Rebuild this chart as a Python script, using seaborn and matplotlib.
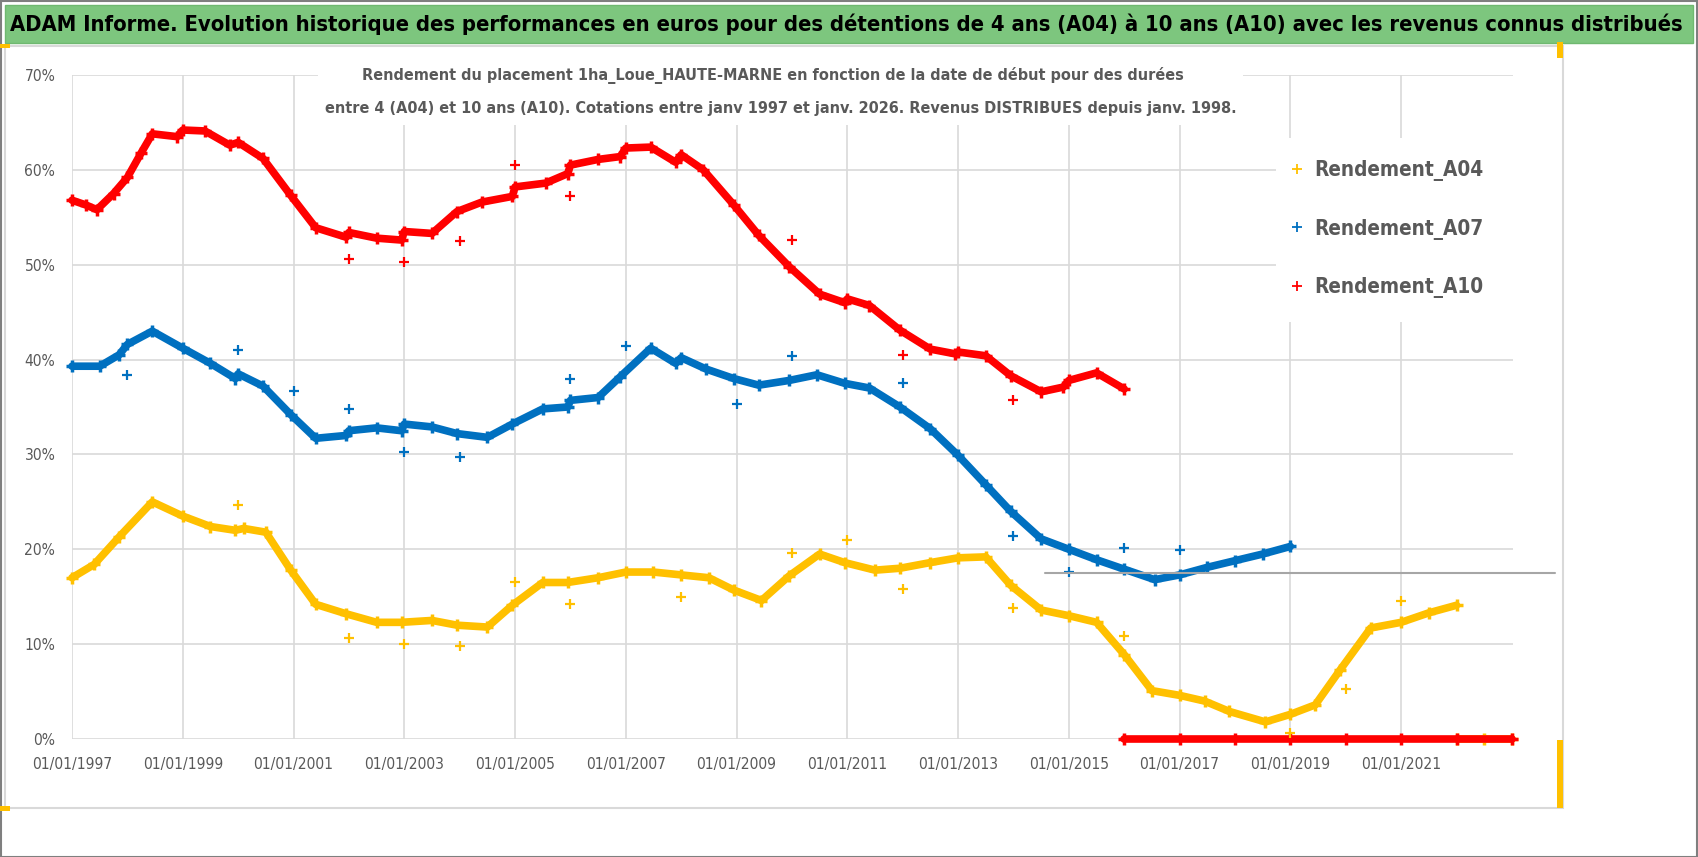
import os
import numpy as np
import pandas as pd
import matplotlib
matplotlib.use("Agg")
import matplotlib.pyplot as plt
import matplotlib.font_manager as fm
import seaborn as sns
from matplotlib.patches import Rectangle
from matplotlib.lines import Line2D
from matplotlib.ticker import FuncFormatter, MultipleLocator

# Data (decimal year, yield in %)
a10_x = [1997.0, 1997.25, 1997.45, 1997.75, 1998.0, 1998.25, 1998.45, 1998.9, 1999.0, 1999.4, 1999.85,
         2000.0, 2000.45, 2000.95, 2001.4, 2001.95, 2002.0, 2002.5, 2002.95, 2003.0, 2003.5,
         2003.95, 2004.4, 2004.95, 2005.0, 2005.55, 2005.95, 2006.0, 2006.5, 2006.9, 2007.0,
         2007.45, 2007.9, 2008.0, 2008.4, 2008.95, 2009.4, 2009.95, 2010.5, 2010.95, 2011.0,
         2011.4, 2011.95, 2012.5, 2012.95, 2013.0, 2013.5, 2013.95, 2014.5, 2014.9, 2015.0,
         2015.5, 2016.0]
a10_y = [56.8, 56.3, 55.8, 57.5, 59.2, 61.8, 63.8, 63.5, 64.2, 64.1, 62.6,
         62.9, 61.2, 57.3, 53.9, 52.9, 53.4, 52.8, 52.6, 53.5, 53.3,
         55.6, 56.6, 57.2, 58.2, 58.6, 59.6, 60.5, 61.1, 61.4, 62.3,
         62.4, 60.8, 61.6, 60.0, 56.3, 53.1, 49.8, 46.9, 46.0, 46.4,
         45.7, 43.1, 41.1, 40.6, 40.8, 40.4, 38.3, 36.6, 37.1, 37.8,
         38.6, 36.9]
a10_zero_x = [2016.0, 2017.0, 2018.0, 2019.0, 2020.0, 2021.0, 2022.0, 2023.0]
a10_zero_y = [0, 0, 0, 0, 0, 0, 0, 0]
a10_out_x = [2002.0, 2003.0, 2004.0, 2005.0, 2006.0, 2010.0, 2012.0, 2014.0]
a10_out_y = [50.6, 50.3, 52.5, 60.5, 57.2, 52.6, 40.5, 35.7]

a07_x = [1997.0, 1997.5, 1997.85, 1998.0, 1998.45, 1999.0, 1999.5, 1999.95, 2000.0, 2000.45,
         2000.95, 2001.4, 2001.95, 2002.0, 2002.5, 2002.95, 2003.0, 2003.5, 2003.95, 2004.5,
         2004.95, 2005.5, 2005.95, 2006.0, 2006.5, 2006.9, 2007.45, 2007.9, 2008.0, 2008.45,
         2008.95, 2009.4, 2009.95, 2010.45, 2010.95, 2011.4, 2011.95, 2012.5, 2013.0, 2013.5,
         2013.95, 2014.5, 2015.0, 2015.5, 2016.0, 2016.55, 2017.0, 2017.5, 2018.0, 2018.5,
         2019.0]
a07_y = [39.3, 39.3, 40.5, 41.6, 43.0, 41.2, 39.6, 38.0, 38.5, 37.2,
         34.2, 31.7, 32.0, 32.5, 32.8, 32.5, 33.2, 32.9, 32.2, 31.8,
         33.2, 34.8, 35.0, 35.7, 36.0, 38.2, 41.2, 39.6, 40.2, 39.0,
         38.0, 37.3, 37.8, 38.4, 37.5, 37.0, 35.0, 32.7, 29.9, 26.8,
         24.0, 21.1, 20.0, 18.9, 17.9, 16.8, 17.3, 18.1, 18.8, 19.5,
         20.3]
a07_out_x = [1998.0, 2000.0, 2001.0, 2002.0, 2003.0, 2004.0, 2006.0, 2007.0, 2009.0, 2010.0,
             2012.0, 2014.0, 2015.0, 2016.0, 2017.0]
a07_out_y = [38.4, 41.0, 36.7, 34.8, 30.3, 29.7, 38.0, 41.4, 35.3, 40.4,
             37.5, 21.4, 17.6, 20.1, 19.9]

a04_x = [1997.0, 1997.4, 1997.85, 1998.45, 1999.0, 1999.5, 1999.95, 2000.1, 2000.5, 2000.95,
         2001.4, 2001.95, 2002.5, 2002.95, 2003.5, 2003.95, 2004.5, 2004.95, 2005.5, 2005.95,
         2006.5, 2007.0, 2007.5, 2008.0, 2008.5, 2008.95, 2009.45, 2009.95, 2010.5, 2010.95,
         2011.5, 2011.95, 2012.5, 2013.0, 2013.5, 2013.95, 2014.5, 2015.0, 2015.5, 2016.0,
         2016.5, 2017.0, 2017.45, 2017.9, 2018.55, 2019.0, 2019.45, 2019.9, 2020.45, 2021.0,
         2021.5, 2022.0]
a04_y = [17.0, 18.4, 21.3, 25.0, 23.5, 22.4, 22.0, 22.2, 21.8, 17.8,
         14.2, 13.2, 12.3, 12.3, 12.5, 12.0, 11.8, 14.1, 16.5, 16.5,
         17.0, 17.6, 17.6, 17.3, 17.0, 15.7, 14.6, 17.2, 19.5, 18.6,
         17.8, 18.0, 18.6, 19.1, 19.2, 16.2, 13.6, 13.0, 12.3, 8.9,
         5.1, 4.6, 4.0, 2.9, 1.8, 2.6, 3.6, 7.3, 11.7, 12.3,
         13.3, 14.1]
a04_zero_x = [2022.0, 2022.5, 2023.0]
a04_zero_y = [0, 0, 0]
a04_out_x = [2000.0, 2002.0, 2003.0, 2004.0, 2005.0, 2006.0, 2008.0, 2010.0, 2011.0, 2012.0,
             2014.0, 2016.0, 2019.0, 2020.0, 2021.0]
a04_out_y = [24.7, 10.6, 10.0, 9.8, 16.6, 14.2, 15.0, 19.6, 21.0, 15.8,
             13.8, 10.9, 0.6, 5.3, 14.6]

x_ticks = [1997, 1999, 2001, 2003, 2005, 2007, 2009, 2011, 2013, 2015, 2017, 2019, 2021]
series_names = ['Rendement_A04', 'Rendement_A07', 'Rendement_A10']

title = ("ADAM Informe. Evolution historique des performances en euros pour des détentions "
         "de 4 ans (A04) à 10 ans (A10) avec les revenus connus distribués")
subtitle_1 = "Rendement du placement 1ha_Loue_HAUTE-MARNE en fonction de la date de début pour des durées"
subtitle_2 = "entre 4 (A04) et 10 ans (A10). Cotations entre janv 1997 et janv. 2026. Revenus DISTRIBUES depuis janv. 1998."

sns.set_style("white")
plt.rcParams['font.family'] = ['Liberation Sans', 'DejaVu Sans']


# look for a narrow font close to Calibri
def pick_font(patterns, weight):
    files = [f.fname for f in fm.fontManager.ttflist]
    for pat in patterns:
        for fn in files:
            if os.path.basename(fn).lower().startswith(pat):
                return fm.FontProperties(fname=fn)
    return fm.FontProperties(family=['Liberation Sans', 'DejaVu Sans'], weight=weight)


fp_bold = pick_font(['liberationsansnarrow-bold.', 'notosans-condensedbold.', 'dejavusanscondensed-bold.',
                     'robotocondensed-bold.', 'liberationsans-bold.'], 'bold')
fp_reg = pick_font(['liberationsansnarrow-regular.', 'notosans-condensed.', 'dejavusanscondensed.',
                    'robotocondensed-regular.', 'liberationsans-regular.'], 'normal')

YEL = '#FFC000'
BLU = '#0070C0'
RED = '#FF0000'
GREY_TXT = '#595959'

fig = plt.figure(figsize=(16.98, 8.57), dpi=100)
W, H = 1698, 857
renderer = fig.canvas.get_renderer()


def fit(t, target_w):
    w = t.get_window_extent(renderer).width
    t.set_fontsize(t.get_fontsize() * target_w / w)
    return t.get_fontsize()


def fx(px):
    return px / W


def fy(py):
    return 1 - py / H


# frame, title banner and the yellow selection handles
fig.patches.append(Rectangle((fx(0.5), fy(856.5)), 1 - 1.5 / W, 1 - 1.5 / H, transform=fig.transFigure,
                             fill=False, edgecolor='#7F7F7F', lw=1.5))
fig.patches.append(Rectangle((fx(5), fy(43)), fx(1688), 38 / H, transform=fig.transFigure,
                             facecolor='#7DC67E', edgecolor='#6FB870', lw=1))
fig.patches.append(Rectangle((fx(5), fy(808)), fx(1558), 762 / H, transform=fig.transFigure,
                             fill=False, edgecolor='#D9D9D9', lw=1.5))
for x0, y0, w0, h0 in [(0, 44, 10, 4), (1557, 42, 6, 16), (1557, 740, 6, 68), (0, 806, 10, 5)]:
    fig.patches.append(Rectangle((fx(x0), fy(y0 + h0)), w0 / W, h0 / H, transform=fig.transFigure,
                                 facecolor=YEL, edgecolor='none'))
t_title = fig.text(fx(10), fy(24), title, ha='left', va='center', fontproperties=fp_bold, color='black')
t_title.set_fontsize(20)
fit(t_title, 1672)

ax = fig.add_axes([fx(72), fy(739), (1513 - 72) / W, (739 - 75) / H])

for xs, ys, col in [(a04_x, a04_y, YEL), (a04_zero_x, a04_zero_y, YEL),
                    (a07_x, a07_y, BLU), (a10_x, a10_y, RED), (a10_zero_x, a10_zero_y, RED)]:
    sns.lineplot(x=xs, y=ys, ax=ax, color=col, lw=5.5, marker='+', markersize=9,
                 markeredgewidth=2.5, markeredgecolor=col, sort=False, zorder=3, clip_on=False)
for xs, ys, col in [(a04_out_x, a04_out_y, YEL), (a07_out_x, a07_out_y, BLU), (a10_out_x, a10_out_y, RED)]:
    sns.scatterplot(x=xs, y=ys, ax=ax, color=col, marker='+', s=60, linewidth=1.6, zorder=4)

ax.set_xlim(1997, 2023.02)
ax.set_ylim(0, 70)
ax.set_xticks(x_ticks)
ax.xaxis.set_major_formatter(FuncFormatter(lambda v, p: "01/01/%d" % int(round(v))))
ax.yaxis.set_major_locator(MultipleLocator(10))
ax.yaxis.set_major_formatter(FuncFormatter(lambda v, p: "%d%%" % v))
ax.grid(True, color='#D9D9D9', lw=1.2)
ax.set_axisbelow(True)
for s in ax.spines.values():
    s.set_visible(False)
ax.tick_params(axis='x', length=0, pad=13)
ax.tick_params(axis='y', length=0, pad=12)
fig.canvas.draw()
for lab in ax.get_xticklabels() + ax.get_yticklabels():
    lab.set_fontproperties(fp_reg)
    lab.set_color(GREY_TXT)
    lab.set_fontsize(13)
fig.canvas.draw()
xs_size = fit(ax.get_xticklabels()[0], 80)
for lab in ax.get_xticklabels() + ax.get_yticklabels():
    lab.set_fontsize(xs_size)

# odd grey line at 17.5 %
fig.lines.append(Line2D([fx(1045), fx(1555)], [fy(573), fy(573)], transform=fig.transFigure,
                        color='#A6A6A6', lw=1.5))

# chart title over the gridlines
fig.patches.append(Rectangle((fx(318), fy(125)), fx(925), 64 / H, transform=fig.transFigure,
                             facecolor='white', edgecolor='none', zorder=2))
t_s1 = fig.text(fx(773), fy(75), subtitle_1, ha='center', va='center', fontproperties=fp_bold,
                color=GREY_TXT, zorder=3)
t_s2 = fig.text(fx(781), fy(108), subtitle_2, ha='center', va='center', fontproperties=fp_bold,
                color=GREY_TXT, zorder=3)
t_s2.set_fontsize(15)
s_size = fit(t_s2, 913)
t_s1.set_fontsize(s_size)

# legend area: white box over the gridlines, then the legend itself
fig.patches.append(Rectangle((fx(1276), fy(322)), fx(264), 184 / H, transform=fig.transFigure,
                             facecolor='white', edgecolor='none', zorder=2))
probe = fig.text(0, 0, series_names[0], fontproperties=fp_bold)
probe.set_fontsize(16)
l_size = fit(probe, 170)
probe.remove()
fp_leg = fp_bold.copy()
fp_leg.set_size(l_size)
l_px = l_size * 100 / 72
handles = [Line2D([], [], ls='none', marker='+', color=c, markersize=7, markeredgewidth=1.3)
           for c in [YEL, BLU, RED]]
leg = fig.legend(handles, series_names, loc='center left', bbox_to_anchor=(fx(1280), fy(229)),
                 frameon=False, handlelength=0.6, handletextpad=0.55,
                 labelspacing=(61 - 1.15 * l_px) / l_px, borderpad=0, prop=fp_leg)
for t in leg.get_texts():
    t.set_color(GREY_TXT)

plt.savefig("out.png", dpi=100)
